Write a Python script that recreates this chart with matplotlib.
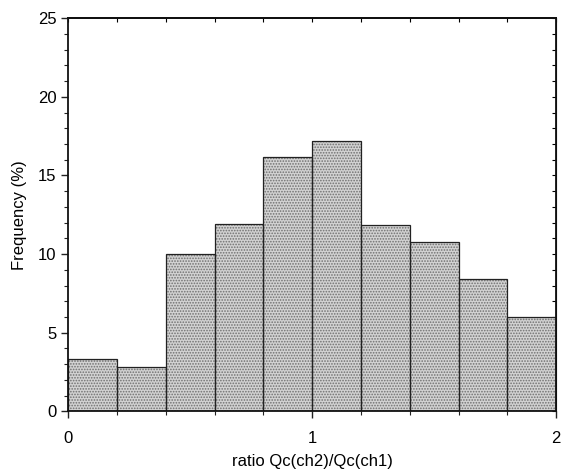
import numpy as np
import matplotlib.pyplot as plt
from matplotlib.ticker import MultipleLocator

plt.rcParams.update({
    "font.family": ["Liberation Sans", "DejaVu Sans"],
    "font.size": 12,
    "hatch.linewidth": 0.8,
})

bin_left = [0.0, 0.2, 0.4, 0.6, 0.8, 1.0, 1.2, 1.4, 1.6, 1.8]
freq = [3.3, 2.8, 10.0, 11.9, 16.2, 17.2, 11.85, 10.8, 8.4, 6.0]
bin_width = 0.2

fig = plt.figure(figsize=(5.63, 4.70), dpi=100)
ax = fig.add_axes([0.121, 0.125, 0.867, 0.836])

# stippled fill, then the outlines on top
ax.bar(bin_left, freq, width=bin_width, align="edge", color="#d2d2d2",
       edgecolor="#707070", hatch="......", linewidth=0, zorder=2)
ax.bar(bin_left, freq, width=bin_width, align="edge", fill=False,
       edgecolor="#222222", linewidth=0.9, zorder=3)

ax.set_xlim(0, 2)
ax.set_ylim(0, 25)
ax.xaxis.set_major_locator(MultipleLocator(1))
ax.xaxis.set_minor_locator(MultipleLocator(0.2))
ax.yaxis.set_major_locator(MultipleLocator(5))
ax.yaxis.set_minor_locator(MultipleLocator(1))
ax.tick_params(which="both", direction="out", color="#222222", labelsize=12)
ax.tick_params(which="major", length=5, width=1)
ax.tick_params(which="minor", length=3, width=0.8)
ax.tick_params(axis="x", pad=9)

for side in ["left", "bottom", "top", "right"]:
    ax.spines[side].set_linewidth(1.3)
    ax.spines[side].set_color("#111111")
    ax.spines[side].set_zorder(4)

top = ax.secondary_xaxis("top")
top.xaxis.set_major_locator(MultipleLocator(0.2))
top.tick_params(direction="in", length=3, width=0.8, labeltop=False)
top.spines["top"].set_linewidth(1.3)
right = ax.secondary_yaxis("right")
right.yaxis.set_major_locator(MultipleLocator(1))
right.tick_params(direction="in", length=3, width=0.8, labelright=False)

ax.set_xlabel("ratio Qc(ch2)/Qc(ch1)", fontsize=12, labelpad=6)
ax.set_ylabel("Frequency (%)", fontsize=12, labelpad=8)

fig.savefig("out.png", dpi=100)
